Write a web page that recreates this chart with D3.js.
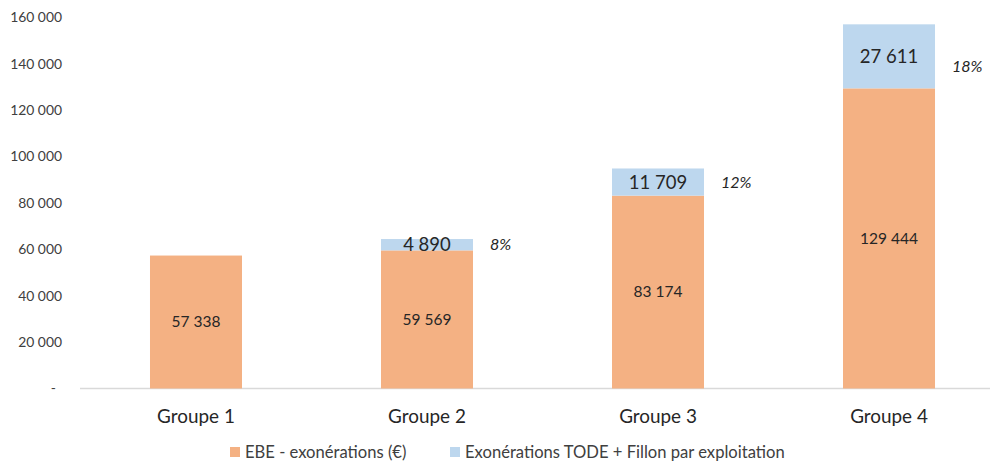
<!DOCTYPE html>
<html><head><meta charset="utf-8">
<script src="https://cdn.jsdelivr.net/npm/d3@7"></script>
<style>body{margin:0;background:#fff}svg{display:block;font-family:Lato,"Open Sans",sans-serif}</style>
</head><body>
<svg id="c" width="990" height="461"></svg>
<script>
const categories = ["Groupe 1","Groupe 2","Groupe 3","Groupe 4"];
const ebe = [57338, 59569, 83174, 129444];
const exo = [0, 4890, 11709, 27611];
const pct = [null, "8%", "12%", "18%"];
const yTicks = [0,20000,40000,60000,80000,100000,120000,140000,160000];
const seriesNames = ["EBE - exonérations (€)", "Exonérations TODE + Fillon par exploitation"];
const colors = ["#F4B183", "#BDD7EE"];

const svg = d3.select("#c");
const fmt = v => v === 0 ? "-" : d3.format(",")(v).replace(/,/g, "\u202F");
const fmtLbl = v => d3.format(",")(v).replace(/,/g, " ");

const x = d3.scaleBand().domain(categories).range([80.5, 1004.5]).paddingInner(0.6017).paddingOuter(0.3008);
const y = d3.scaleLinear().domain([0,160000]).range([388.5, 17.5]);

// y axis labels
svg.append("g").selectAll("text").data(yTicks).join("text")
  .attr("x", d => d === 0 ? 56 : 62).attr("y", d => y(d)).attr("dy","0.35em")
  .attr("text-anchor","end").attr("font-size", 13.9).attr("fill","#404040")
  .text(d => fmt(d));

// baseline
svg.append("line").attr("x1",80).attr("x2",990).attr("y1",y(0)).attr("y2",y(0))
  .attr("stroke","#d9d9d9").attr("stroke-width",1.5);

const g = svg.append("g");
categories.forEach((c,i) => {
  const bx = x(c), bw = x.bandwidth();
  g.append("rect").attr("x",bx).attr("width",bw).attr("y",y(ebe[i])).attr("height",y(0)-y(ebe[i])).attr("fill",colors[0]);
  g.append("text").attr("x",bx+bw/2).attr("y",y(ebe[i]/2)).attr("dy","0.35em")
    .attr("text-anchor","middle").attr("font-size",15.5).attr("fill","#262626").text(fmtLbl(ebe[i]));
  if (exo[i] > 0) {
    const top = ebe[i] + exo[i];
    g.append("rect").attr("x",bx).attr("width",bw).attr("y",y(top)).attr("height",y(ebe[i])-y(top)).attr("fill",colors[1]);
    const cy = y(ebe[i] + exo[i]/2);
    g.append("text").attr("x",bx+bw/2).attr("y",cy).attr("dy","0.35em")
      .attr("text-anchor","middle").attr("font-size",18.5).attr("fill","#262626").text(fmtLbl(exo[i]));
    g.append("text").attr("x",bx+bw+17).attr("y",cy + (i===3?10:0)).attr("dy","0.35em")
      .attr("font-size",16).attr("font-style","italic").attr("fill","#262626").text(pct[i]);
  }
  g.append("text").attr("x",bx+bw/2).attr("y",416).attr("dy","0.35em")
    .attr("text-anchor","middle").attr("font-size",18.9).attr("fill","#262626").text(c);
});

// legend
const leg = [{x:230, tx:245},{x:450, tx:465}];
leg.forEach((l,i) => {
  svg.append("rect").attr("x",l.x).attr("y",447).attr("width",10).attr("height",10).attr("fill",colors[i]);
  svg.append("text").attr("x",l.tx).attr("y",452).attr("dy","0.35em").attr("font-size",16.6).attr("fill","#404040").text(seriesNames[i]);
});
</script>
</body></html>
